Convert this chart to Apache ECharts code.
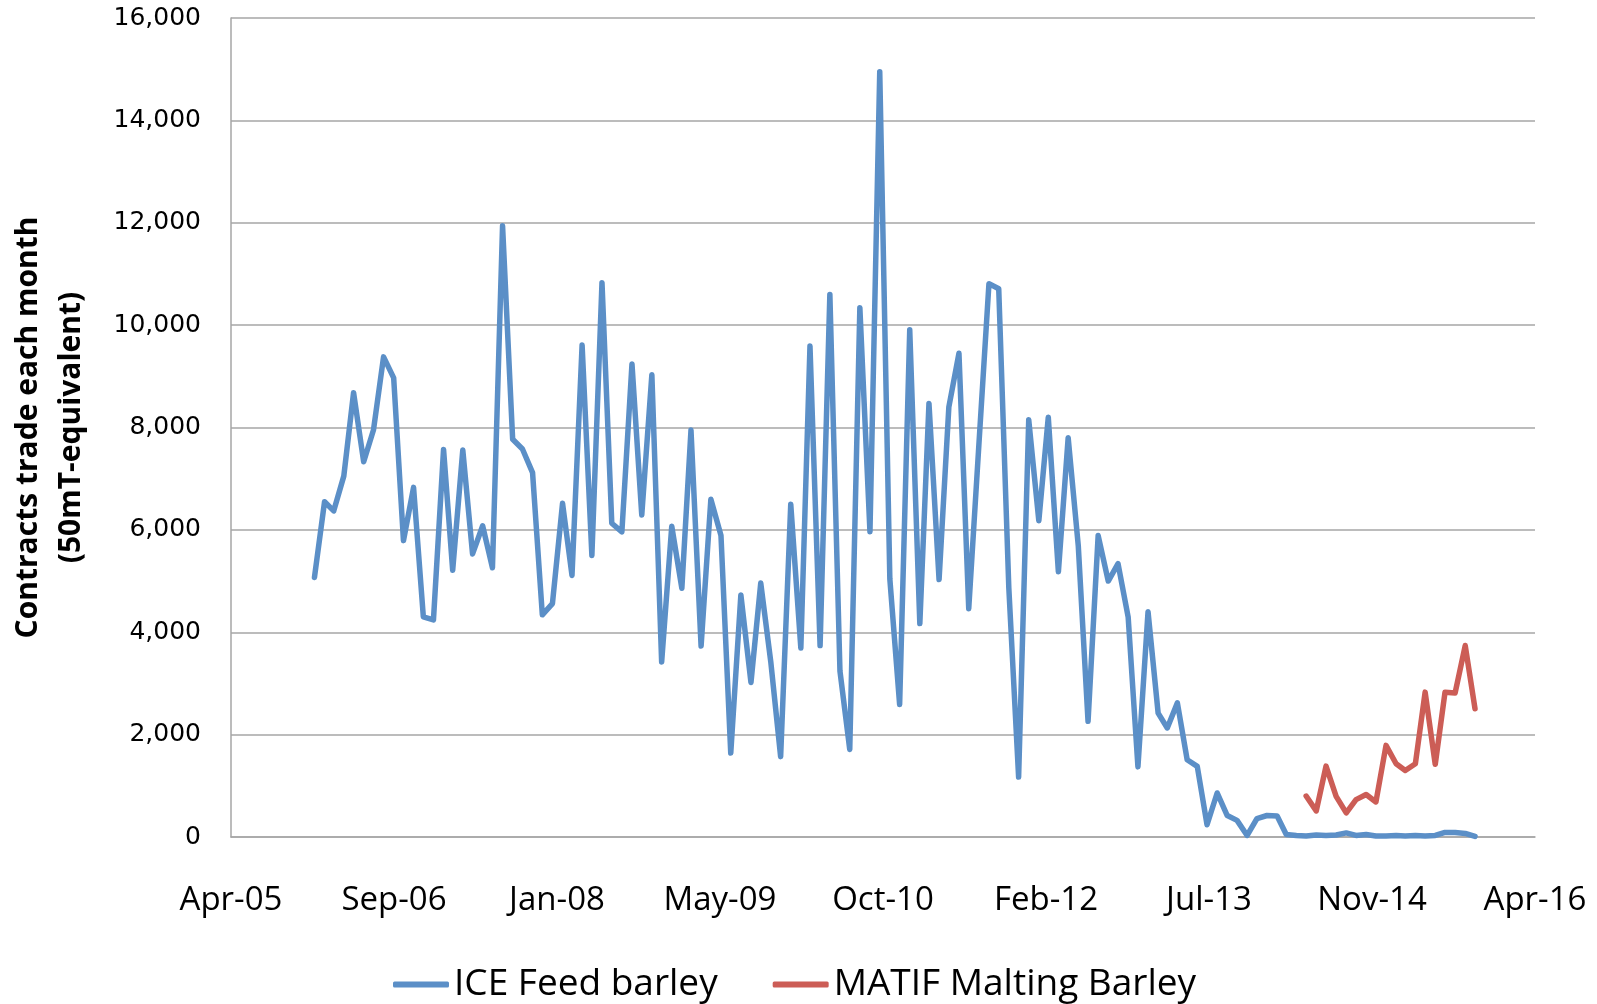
<!DOCTYPE html>
<html>
<head>
<meta charset="utf-8">
<title>Barley futures volume</title>
<script src="https://cdn.jsdelivr.net/npm/echarts@6/dist/echarts.min.js"></script>
<style>
  html, body { margin: 0; padding: 0; background: #fff; }
  #chart { width: 1597px; height: 1004px; }
</style>
</head>
<body>
<div id="chart"></div>
<script>
// Monthly traded volume, contracts (50mT-equivalent)
// ICE series runs monthly from Jan 2006 to Oct 2015
const iceStart = [2006, 0];
const iceFeedBarley = [
  5070, 6550, 6370, 7050, 8680, 7330, 7950, 9380, 8970, 5790, 6830, 4300,
  4240, 7570, 5210, 7560, 5530, 6080, 5260, 11940, 7770, 7580, 7120, 4340,
  4560, 6520, 5110, 9610, 5500, 10830, 6130, 5960, 9240, 6290, 9030, 3420,
  6070, 4860, 7950, 3730, 6600, 5890, 1640, 4730, 3020, 4960, 3410, 1570,
  6500, 3690, 9590, 3740, 10600, 3240, 1710, 10340, 5965, 14950, 5040, 2590,
  9910, 4170, 8470, 5030, 8400, 9450, 4460, 7650, 10810, 10710, 4860, 1170,
  8150, 6180, 8200, 5180, 7800, 5690, 2260, 5890, 5000, 5340, 4300, 1370,
  4400, 2420, 2130, 2620, 1510, 1380, 240, 860, 420, 325, 30, 360,
  420, 410, 50, 30, 20, 40, 30, 40, 80, 30, 50, 20,
  20, 30, 20, 30, 20, 30, 90, 90, 70, 10
];
// MATIF series runs monthly from May 2014 to Oct 2015
const matifStart = [2014, 4];
const matifMaltingBarley = [
  800, 510, 1385, 795, 470, 730, 830, 685, 1790, 1430, 1300, 1430,
  2830, 1420, 2830, 2815, 3740, 2505
];
const seriesNames = ['ICE Feed barley', 'MATIF Malting Barley'];
const monthNames = ['Jan','Feb','Mar','Apr','May','Jun','Jul','Aug','Sep','Oct','Nov','Dec'];
const yTicks = [0, 2000, 4000, 6000, 8000, 10000, 12000, 14000, 16000];

// The date axis is measured in days from its origin, ticks every 500 days
const axisOrigin = Date.UTC(2005, 3, 20);
const DAY = 86400000;
const axisSpanDays = 4000;
const tickDays = 500;

function dayOf(year, month) {
  return (Date.UTC(year, month, 1) - axisOrigin) / DAY;
}
function toPoints(start, values) {
  return values.map((v, i) => [dayOf(start[0], start[1] + i), v]);
}
function dayLabel(d) {
  const dt = new Date(axisOrigin + d * DAY);
  const yy = String(dt.getUTCFullYear() % 100).padStart(2, '0');
  return monthNames[dt.getUTCMonth()] + '-' + yy;
}

const chart = echarts.init(document.getElementById('chart'), null, { renderer: 'canvas' });
const gridColor = '#A6A6A6';

chart.setOption({
  animation: false,
  backgroundColor: '#ffffff',
  grid: { left: 231, right: 62, top: 18, bottom: 167, containLabel: false, outerBoundsMode: 'none' },
  legend: {
    data: seriesNames,
    left: 388,
    top: 961,
    icon: 'roundRect',
    itemWidth: 56,
    itemHeight: 6,
    itemGap: 55,
    textStyle: { fontFamily: 'Open Sans', fontSize: 37, color: '#000' }
  },
  xAxis: {
    type: 'value',
    min: 0,
    max: axisSpanDays,
    interval: tickDays,
    axisLine: { show: true, lineStyle: { color: gridColor, width: 1.5 } },
    axisTick: { show: false },
    splitLine: { show: false },
    axisLabel: {
      margin: 47,
      fontFamily: 'Open Sans',
      fontSize: 33,
      color: '#000',
      formatter: v => dayLabel(v)
    }
  },
  yAxis: {
    type: 'value',
    min: yTicks[0],
    max: yTicks[yTicks.length - 1],
    interval: yTicks[1] - yTicks[0],
    name: 'Contracts trade each month\n(50mT-equivalent)',
    nameLocation: 'middle',
    nameGap: 138,
    nameRotate: 90,
    nameTextStyle: {
      fontFamily: 'Open Sans',
      fontWeight: 'bold',
      fontSize: 30,
      lineHeight: 43,
      color: '#000'
    },
    axisLine: { show: true, lineStyle: { color: gridColor, width: 1.5 } },
    axisTick: { show: false },
    splitLine: { show: true, lineStyle: { color: gridColor, width: 1.5 } },
    axisLabel: {
      margin: 30,
      fontFamily: 'DejaVu Sans',
      fontSize: 25,
      color: '#000',
      formatter: v => v.toLocaleString('en-US')
    }
  },
  series: [
    {
      name: seriesNames[0],
      type: 'line',
      data: toPoints(iceStart, iceFeedBarley),
      showSymbol: false,
      symbol: 'none',
      color: '#5B8FC7',
      lineStyle: { width: 5.5, color: '#5B8FC7', join: 'round', cap: 'round' },
      z: 3
    },
    {
      name: seriesNames[1],
      type: 'line',
      data: toPoints(matifStart, matifMaltingBarley),
      showSymbol: false,
      symbol: 'none',
      color: '#CC5D56',
      lineStyle: { width: 5.5, color: '#CC5D56', join: 'round', cap: 'round' },
      z: 2
    }
  ]
});
</script>
</body>
</html>
